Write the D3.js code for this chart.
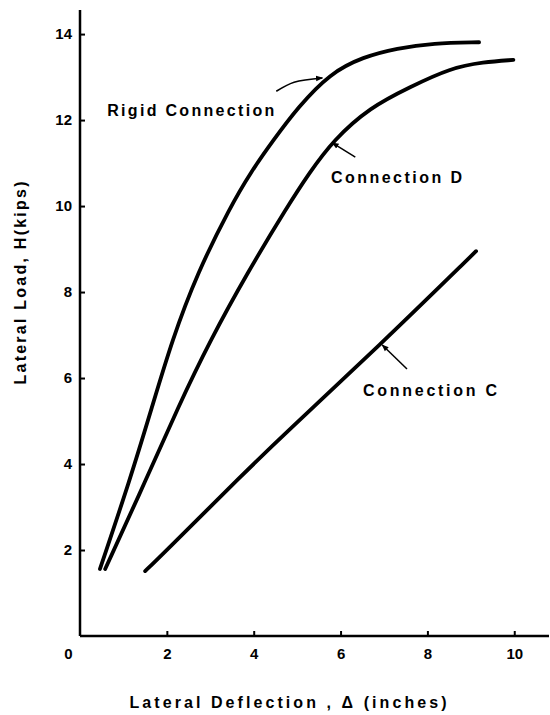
<!DOCTYPE html>
<html>
<head>
<meta charset="utf-8">
<script src="https://cdn.jsdelivr.net/npm/d3@7"></script>
<style>
  body { margin: 0; background: #fff; }
  text { font-family: "Liberation Sans", Arial, sans-serif; font-weight: bold; fill: #000; }
</style>
</head>
<body>
<div id="chart"></div>
<script>
// curve data (deflection in inches, load in kips)
var rigidX = [0.46, 1.15, 1.66, 2.12, 2.70, 3.46, 3.92, 4.45, 5.02, 5.76, 6.52, 7.30, 8.13, 9.19];
var rigidY = [1.56, 3.63, 5.33, 6.88, 8.44, 9.98, 10.77, 11.53, 12.30, 13.09, 13.47, 13.67, 13.79, 13.81];
var connDX = [0.58, 1.52, 2.26, 3.00, 3.85, 4.77, 5.28, 5.83, 6.68, 7.60, 8.53, 9.29, 9.98];
var connDY = [1.56, 3.63, 5.33, 6.88, 8.44, 9.98, 10.77, 11.53, 12.30, 12.77, 13.21, 13.35, 13.40];
var connCX = [1.50, 1.84, 3.85, 4.61, 6.91, 9.12];
var connCY = [1.51, 1.84, 3.86, 4.60, 6.77, 8.95];

var xTicks = [0, 2, 4, 6, 8, 10];
var yTicks = [2, 4, 6, 8, 10, 12, 14];

// labels with their arrows (data units)
var labels = [
  { text: "Rigid Connection", x: 2.55, y: 12.23, w: 167, arrow: [[4.52, 12.67], [4.93, 12.88], [5.58, 12.98]] },
  { text: "Connection D", x: 7.29, y: 10.67, w: 131, arrow: [[6.34, 11.14], [5.81, 11.47]] },
  { text: "Connection C", x: 8.06, y: 5.70, w: 134, arrow: [[7.53, 6.21], [6.96, 6.77]] }
];

var width = 550, height = 715;

var svg = d3.select("#chart").append("svg")
    .attr("width", width)
    .attr("height", height);

var x = d3.scaleLinear().domain([0, 10.8]).range([80, 549]);
var y = d3.scaleLinear().domain([0, 14.56]).range([636, 10]);

svg.append("defs").append("marker")
    .attr("id", "head")
    .attr("viewBox", "0 0 10 10")
    .attr("refX", 9).attr("refY", 5)
    .attr("markerWidth", 7).attr("markerHeight", 7)
    .attr("markerUnits", "userSpaceOnUse")
    .attr("orient", "auto")
  .append("path")
    .attr("d", "M0,1 L10,5 L0,9 Z")
    .attr("fill", "#000");

// x axis
var xAxis = svg.append("g")
    .attr("transform", "translate(0," + y(0) + ")")
    .call(d3.axisBottom(x).tickValues(xTicks).tickSize(-5).tickPadding(12).tickFormat(d3.format("d")));
xAxis.select(".domain").attr("stroke-width", 2.5).attr("d", "M" + x(0) + ",0H" + x(10.8));
xAxis.selectAll(".tick line").attr("stroke-width", 2);
xAxis.selectAll(".tick").filter(function(d) { return d === 0; }).select("line").remove();
xAxis.selectAll(".tick").filter(function(d) { return d === 0; }).select("text").attr("dx", -12);
xAxis.selectAll("text").style("font-size", "15px").attr("fill", "#000");

// y axis
var yAxis = svg.append("g")
    .attr("transform", "translate(" + x(0) + ",0)")
    .call(d3.axisLeft(y).tickValues(yTicks).tickSize(-5).tickPadding(8));
yAxis.select(".domain").attr("stroke-width", 2.5).attr("d", "M0," + y(0) + "V" + y(14.56));
yAxis.selectAll(".tick line").attr("stroke-width", 2);
yAxis.selectAll("text").style("font-size", "15px").attr("fill", "#000");

// axis titles
svg.append("text")
    .attr("x", 288).attr("y", 702)
    .attr("text-anchor", "middle")
    .attr("dominant-baseline", "central")
    .attr("textLength", 317).attr("lengthAdjust", "spacing")
    .style("font-size", "16px")
    .text("Lateral Deflection , \u0394 (inches)");

svg.append("text")
    .attr("transform", "translate(20,283) rotate(-90)")
    .attr("text-anchor", "middle")
    .attr("dominant-baseline", "central")
    .attr("textLength", 203).attr("lengthAdjust", "spacing")
    .style("font-size", "16px")
    .text("Lateral Load, H(kips)");

// curves
var line = d3.line()
    .x(function(d) { return x(d[0]); })
    .y(function(d) { return y(d[1]); })
    .curve(d3.curveBasis);

var series = [d3.zip(rigidX, rigidY), d3.zip(connDX, connDY), d3.zip(connCX, connCY)];

svg.selectAll(".curve")
    .data(series)
  .enter().append("path")
    .attr("class", "curve")
    .attr("d", line)
    .attr("fill", "none")
    .attr("stroke", "#000")
    .attr("stroke-width", 3.8)
    .attr("stroke-linecap", "round")
    .attr("stroke-linejoin", "round");

// labels and arrows
var arrowLine = d3.line()
    .x(function(d) { return x(d[0]); })
    .y(function(d) { return y(d[1]); })
    .curve(d3.curveCatmullRom.alpha(0.5));

svg.selectAll(".arrow")
    .data(labels)
  .enter().append("path")
    .attr("class", "arrow")
    .attr("d", function(d) { return arrowLine(d.arrow); })
    .attr("fill", "none")
    .attr("stroke", "#000")
    .attr("stroke-width", 1.5)
    .attr("marker-end", "url(#head)");

svg.selectAll(".label")
    .data(labels)
  .enter().append("text")
    .attr("class", "label")
    .attr("x", function(d) { return x(d.x); })
    .attr("y", function(d) { return y(d.y); })
    .attr("text-anchor", "middle")
    .attr("dominant-baseline", "central")
    .attr("textLength", function(d) { return d.w; })
    .attr("lengthAdjust", "spacing")
    .style("font-size", "16px")
    .text(function(d) { return d.text; });
</script>
</body>
</html>
